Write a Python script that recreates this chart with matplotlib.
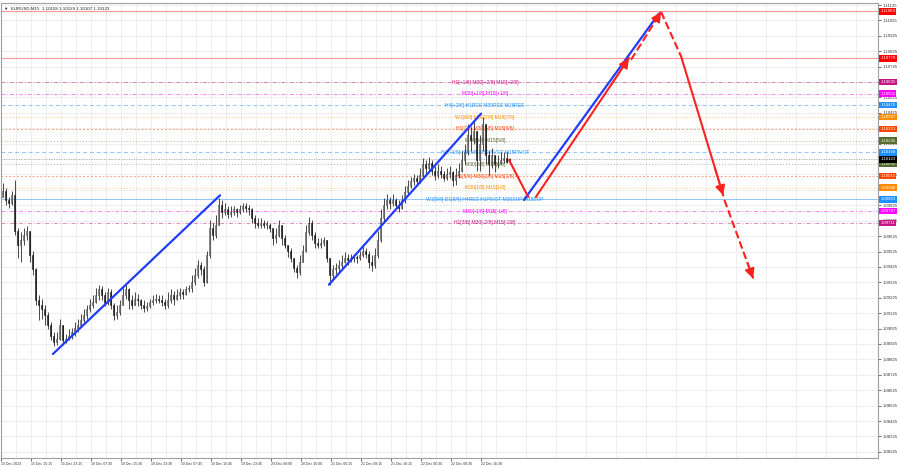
import matplotlib
matplotlib.use('Agg')
import matplotlib.pyplot as plt
import matplotlib.transforms as mtransforms
import numpy as np

plt.rcParams['font.family'] = ['Liberation Sans', 'DejaVu Sans']

# EURUSD M15 candles (one entry per bar)
first_open = 1.0988
closes = [
    1.0992, 1.0986, 1.0984, 1.0989, 1.0966, 1.0957, 1.0960, 1.0963, 1.0966, 1.0950,
    1.0941, 1.0921, 1.0918, 1.0915, 1.0911, 1.0905, 1.0898, 1.0894, 1.0896, 1.0905,
    1.0895, 1.0896, 1.0898, 1.0900, 1.0903, 1.0905, 1.0908, 1.0911, 1.0915, 1.0918,
    1.0920, 1.0924, 1.0928, 1.0924, 1.0919, 1.0926, 1.0918, 1.0911, 1.0913, 1.0918,
    1.0924, 1.0928, 1.0921, 1.0918, 1.0922, 1.0921, 1.0918, 1.0916, 1.0917, 1.0920,
    1.0921, 1.0922, 1.0921, 1.0920, 1.0918, 1.0921, 1.0924, 1.0922, 1.0924, 1.0926,
    1.0925, 1.0928, 1.0929, 1.0933, 1.0937, 1.0944, 1.0941, 1.0933, 1.0950, 1.0968,
    1.0963, 1.0970, 1.0983, 1.0978, 1.0980, 1.0977, 1.0978, 1.0980, 1.0978, 1.0980,
    1.0982, 1.0981, 1.0980, 1.0974, 1.0971, 1.0970, 1.0971, 1.0970, 1.0970, 1.0968,
    1.0961, 1.0963, 1.0970, 1.0961, 1.0957, 1.0953, 1.0948, 1.0942, 1.0939, 1.0946,
    1.0953, 1.0965, 1.0971, 1.0963, 1.0958, 1.0957, 1.0958, 1.0960, 1.0948, 1.0937,
    1.0941, 1.0942, 1.0944, 1.0946, 1.0948, 1.0947, 1.0948, 1.0949, 1.0948, 1.0950,
    1.0953, 1.0951, 1.0946, 1.0944, 1.0950, 1.0960, 1.0974, 1.0983, 1.0986, 1.0984,
    1.0986, 1.0983, 1.0981, 1.0986, 1.0991, 1.0995, 1.0998, 1.1000, 1.0998, 1.1002,
    1.1009, 1.1007, 1.1010, 1.1005, 1.1002, 1.1005, 1.1003, 1.1000, 1.1003, 1.1004,
    1.0999, 1.1002, 1.1005, 1.1012, 1.1017, 1.1028, 1.1025, 1.1031, 1.1012, 1.1022,
    1.1035, 1.1015, 1.1009, 1.1015, 1.1009, 1.1010, 1.1012, 1.1013, 1.10108, 1.10123,
]
highs = [
    1.0997, 1.0994, 1.0988, 1.0992, 1.0999, 1.0968, 1.0965, 1.0968, 1.0969, 1.0966,
    1.0953, 1.0942, 1.0924, 1.0922, 1.0918, 1.0913, 1.0907, 1.0900, 1.0900, 1.0909,
    1.0903, 1.0899, 1.0902, 1.0903, 1.0907, 1.0909, 1.0912, 1.0915, 1.0918, 1.0922,
    1.0924, 1.0929, 1.0931, 1.0930, 1.0926, 1.0929, 1.0928, 1.0919, 1.0918, 1.0921,
    1.0929, 1.0932, 1.0929, 1.0924, 1.0926, 1.0925, 1.0922, 1.0921, 1.0920, 1.0922,
    1.0924, 1.0925, 1.0924, 1.0924, 1.0922, 1.0926, 1.0928, 1.0927, 1.0928, 1.0929,
    1.0928, 1.0930, 1.0931, 1.0937, 1.0942, 1.0947, 1.0946, 1.0943, 1.0953, 1.0973,
    1.0971, 1.0976, 1.0987, 1.0986, 1.0984, 1.0982, 1.0982, 1.0982, 1.0981, 1.0983,
    1.0984, 1.0984, 1.0983, 1.0981, 1.0976, 1.0974, 1.0974, 1.0973, 1.0972, 1.0971,
    1.0968, 1.0968, 1.0973, 1.0970, 1.0963, 1.0957, 1.0955, 1.0948, 1.0944, 1.0950,
    1.0957, 1.0970, 1.0975, 1.0973, 1.0965, 1.0961, 1.0961, 1.0962, 1.0960, 1.0948,
    1.0944, 1.0945, 1.0947, 1.0950, 1.0952, 1.0951, 1.0951, 1.0951, 1.0950, 1.0953,
    1.0956, 1.0955, 1.0953, 1.0950, 1.0955, 1.0966, 1.0980, 1.0987, 1.0990, 1.0988,
    1.0990, 1.0987, 1.0986, 1.0989, 1.0995, 1.0999, 1.1001, 1.1003, 1.1002, 1.1007,
    1.1013, 1.1012, 1.1014, 1.1012, 1.1008, 1.1009, 1.1008, 1.1005, 1.1007, 1.1008,
    1.1005, 1.1007, 1.1010, 1.1018, 1.1022, 1.1035, 1.1033, 1.1038, 1.1031, 1.1028,
    1.1040, 1.1035, 1.1018, 1.1020, 1.1015, 1.1015, 1.1017, 1.1017, 1.1017, 1.10129,
]
lows = [
    1.0989, 1.0983, 1.0981, 1.0983, 1.0963, 1.0948, 1.0946, 1.0957, 1.0960, 1.0946,
    1.0937, 1.0918, 1.0908, 1.0909, 1.0905, 1.0902, 1.0895, 1.0891, 1.0892, 1.0895,
    1.0892, 1.0893, 1.0895, 1.0896, 1.0898, 1.0900, 1.0904, 1.0907, 1.0909, 1.0913,
    1.0916, 1.0919, 1.0921, 1.0921, 1.0917, 1.0918, 1.0915, 1.0908, 1.0909, 1.0911,
    1.0918, 1.0922, 1.0915, 1.0915, 1.0918, 1.0917, 1.0915, 1.0913, 1.0914, 1.0916,
    1.0918, 1.0919, 1.0919, 1.0917, 1.0915, 1.0916, 1.0919, 1.0918, 1.0921, 1.0922,
    1.0922, 1.0924, 1.0926, 1.0926, 1.0931, 1.0935, 1.0937, 1.0930, 1.0932, 1.0948,
    1.0960, 1.0961, 1.0970, 1.0974, 1.0976, 1.0974, 1.0975, 1.0976, 1.0975, 1.0977,
    1.0978, 1.0978, 1.0976, 1.0971, 1.0968, 1.0968, 1.0968, 1.0968, 1.0967, 1.0965,
    1.0957, 1.0958, 1.0962, 1.0957, 1.0955, 1.0949, 1.0946, 1.0939, 1.0935, 1.0937,
    1.0946, 1.0952, 1.0963, 1.0960, 1.0955, 1.0955, 1.0955, 1.0956, 1.0946, 1.0931,
    1.0934, 1.0938, 1.0939, 1.0942, 1.0945, 1.0944, 1.0946, 1.0946, 1.0945, 1.0947,
    1.0949, 1.0948, 1.0942, 1.0940, 1.0942, 1.0948, 1.0959, 1.0971, 1.0980, 1.0980,
    1.0982, 1.0980, 1.0978, 1.0980, 1.0984, 1.0989, 1.0994, 1.0996, 1.0995, 1.0997,
    1.1001, 1.1003, 1.1005, 1.1002, 1.0999, 1.1000, 1.1000, 1.0998, 1.0999, 1.1000,
    1.0995, 1.0996, 1.1000, 1.1004, 1.1009, 1.1015, 1.1018, 1.1022, 1.1005, 1.1005,
    1.1018, 1.1009, 1.1002, 1.1007, 1.1004, 1.1007, 1.1009, 1.1010, 1.1010, 1.10107,
]

time_labels = ['15 Dec 2023', '15 Dec 15:15', '15 Dec 23:15', '18 Dec 07:30', '18 Dec 15:30',
               '18 Dec 23:30', '19 Dec 07:45', '19 Dec 15:45', '19 Dec 23:45', '20 Dec 08:00',
               '20 Dec 16:00', '21 Dec 00:15', '21 Dec 08:15', '21 Dec 16:15', '22 Dec 00:30',
               '22 Dec 08:30', '22 Dec 16:30']

# murrey levels
level_prices = [1.10625, 1.10550, 1.10476, 1.10397, 1.10321, 1.10245, 1.10168,
                1.10092, 1.10015, 1.09940, 1.09863, 1.09787, 1.09711]
level_names = ['H1[+1/8] M30[+2/8] M15[+2/8]', 'M30[+1/8] M15[+1/8]',
               'H4[+2/8] H1RES M30RES M15RES', 'W1[6/8] M30[7/8] M15[7/8]',
               'H1[7/8] M30[6/8] M15[6/8]', 'M30[5/8] M15[5/8]',
               'H4[+1/8] H1[6/8] M30PIVOT M15PIVOT', 'M30[3/8] M15[3/8]',
               'H1[5/8] M30[2/8] M15[2/8]', 'M30[1/8] M15[1/8]',
               'W1[5/8] D1[8/8] H4RES H1PIVOT M30SUP M15SUP', 'M30[-1/8] M15[-1/8]',
               'H1[3/8] M30[-2/8] M15[-2/8]']
level_colors = ['#c71585', '#ff00ff', '#1e90ff', '#ff8c00', '#ff4500', '#556b2f', '#1e90ff',
                '#556b2f', '#ff4500', '#ff8c00', '#1e90ff', '#ff00ff', '#c71585']
level_dash = [(0, (4, 2, 1, 2)), (0, (4, 2, 1, 2)), (0, (4, 3)), (0, (1, 2)), (0, (2, 2)),
              (0, (1, 2)), (0, (4, 3)), (0, (1, 2)), (0, (2, 2)), (0, (1, 2)), '-',
              (0, (4, 2, 1, 2)), (0, (4, 2, 1, 2))]

red_levels = [1.11084, 1.10779]
last_price = 1.10123

# trend drawings: (bar, price) pairs
blue_lines = [((16.8, 1.0886), (72.5, 1.0989)),
              ((108.8, 1.0931), (159.5, 1.1042)),
              ((173.8, 1.0986), (218.8, 1.1107))]
red_lines = [((168.8, 1.1012), (175.2, 1.0988), '-', False),
             ((177.8, 1.0988), (208.8, 1.1078), '-', True),
             ((209.5, 1.1077), (219.5, 1.1108), '--', True),
             ((219.5, 1.1108), (226.2, 1.1079), '--', False),
             ((226.2, 1.1079), (240.2, 1.0989), '-', True),
             ((240.6, 1.0986), (250.2, 1.0935), '--', True)]

fig = plt.figure(figsize=(9, 4.68), dpi=100)
ax = fig.add_axes([1 / 900, 10 / 468, 877 / 900, 455 / 468])

n = len(closes)
idx = np.arange(n)
opens = [first_open] + closes[:-1]
o = np.array(opens)
c = np.array(closes)
h = np.maximum(np.array(highs), np.maximum(o, c))
l = np.minimum(np.array(lows), np.minimum(o, c))

ax.set_axisbelow(True)
for lv, nm, col, ds in zip(level_prices, level_names, level_colors, level_dash):
    ax.axhline(lv, color=col, lw=0.7, ls=ds, alpha=0.5, zorder=1)
    ax.text(160.8, lv, nm, color=col, fontsize=3.6, ha='center', va='center', zorder=2)
for lv in red_levels:
    ax.axhline(lv, color='#ff5050', lw=0.8, alpha=0.6, zorder=1)
ax.axhline(last_price, color='#999999', lw=0.6, ls=(0, (1, 2)), zorder=1)

# candles
ax.vlines(idx, l, h, color='#2a2a2a', lw=0.6, zorder=3)
up = c >= o
body_bottom = np.minimum(o, c)
body_h = np.maximum(np.abs(c - o), 0.00002)
ax.bar(idx[up], body_h[up], bottom=body_bottom[up], width=0.6, color='white',
       edgecolor='#2a2a2a', lw=0.4, zorder=3)
ax.bar(idx[~up], body_h[~up], bottom=body_bottom[~up], width=0.6, color='#1a1a1a',
       edgecolor='#1a1a1a', lw=0.4, zorder=3)

for (x0, y0), (x1, y1) in blue_lines:
    ax.plot([x0, x1], [y0, y1], color='#1f3cff', lw=1.6, zorder=4, solid_capstyle='round')

for (x0, y0), (x1, y1), ls, head in red_lines:
    ax.plot([x0, x1], [y0, y1], color='#ff2020', lw=1.5, ls=ls, zorder=5)
    if head:
        ax.annotate('', xy=(x1, y1), xytext=(x1 - (x1 - x0) * 0.2, y1 - (y1 - y0) * 0.2),
                    arrowprops=dict(arrowstyle='-|>,head_length=0.6,head_width=0.3',
                                    color='#ff2020', lw=1.2, mutation_scale=10,
                                    shrinkA=0, shrinkB=0), zorder=5)

# axes
yt = np.round(np.arange(1.08225, 1.11126, 0.001), 5)
ax.set_yticks(yt)
ax.set_yticklabels(['%.5f' % v for v in yt])
ax.yaxis.tick_right()
ax.set_xticks(np.arange(len(time_labels)) * 10 - 0.5)
ax.set_xticklabels(time_labels, ha='left')
ax.set_xticks(np.arange(30) * 10 + 4.5, minor=True)
ax.set_xlim(-0.5, 291.8)
ax.set_ylim(1.08185, 1.11138)
ax.tick_params(axis='y', labelsize=3.1, length=2, pad=1.5, colors='#333333', width=0.5)
ax.tick_params(axis='x', labelsize=2.5, length=2, pad=1, colors='#333333', width=0.5)
ax.tick_params(axis='x', which='minor', length=0)
ax.grid(True, which='both', color='#e8e8e8', lw=0.5)
for sp in ax.spines.values():
    sp.set_color('#a0a0a0')
    sp.set_linewidth(0.8)

# price tags on the right
trans = mtransforms.blended_transform_factory(ax.transAxes, ax.transData)
tags = list(zip(level_prices, level_colors)) + [(p, 'red') for p in red_levels] + [(last_price, 'black')]
for p, col in tags:
    ax.text(1.0025, p, '%.5f' % p, transform=trans, fontsize=3.1, color='white',
            ha='left', va='center', clip_on=False, zorder=6,
            bbox=dict(facecolor=col, edgecolor='none', pad=0.9))

ax.text(0.003, 0.993, '\u25BC  EURUSD,M15  1.10108 1.10129 1.10107 1.10123', transform=ax.transAxes,
        fontsize=3.2, color='#222222', ha='left', va='top', zorder=6)

fig.savefig('out.png', dpi=100)
